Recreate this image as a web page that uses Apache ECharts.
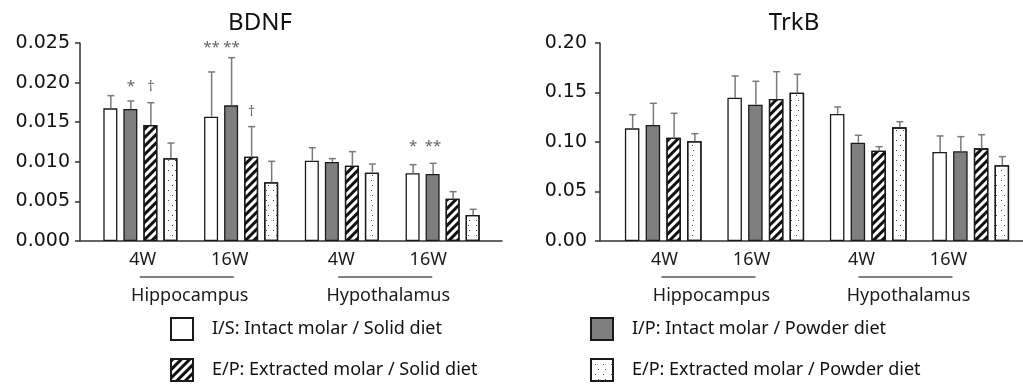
<!DOCTYPE html>
<html>
<head>
<meta charset="utf-8">
<script src="https://cdn.jsdelivr.net/npm/echarts@6/dist/echarts.min.js"></script>
<style>html,body{margin:0;padding:0;background:#fff}#c{width:1023px;height:384px}</style>
</head>
<body>
<div id="c"></div>
<script>
// ---------------- data ----------------
const categories = ['Hippocampus 4W', 'Hippocampus 16W', 'Hypothalamus 4W', 'Hypothalamus 16W'];
const weekLabels = ['4W', '16W', '4W', '16W'];
const regionLabels = ['Hippocampus', 'Hypothalamus'];
const seriesNames = [
  'I/S: Intact molar / Solid diet',
  'I/P: Intact molar / Powder diet',
  'E/P: Extracted molar / Solid diet',
  'E/P: Extracted molar / Powder diet'
];
const bdnfTicks = [0, 0.025, 0.005];
const trkbTicks = [0, 0.20, 0.05];

const bdnfIS = [0.01675, 0.01570, 0.01014, 0.00855];
const bdnfIP = [0.01667, 0.01713, 0.00997, 0.00846];
const bdnfES = [0.01465, 0.01065, 0.00951, 0.00534];
const bdnfEP = [0.01044, 0.00741, 0.00863, 0.00328];
const bdnfIS_sd = [0.00160, 0.00564, 0.00164, 0.00109];
const bdnfIP_sd = [0.00101, 0.00602, 0.00043, 0.00135];
const bdnfES_sd = [0.00281, 0.00379, 0.00177, 0.00089];
const bdnfEP_sd = [0.00193, 0.00265, 0.00109, 0.00072];

const trkbIS = [0.1138, 0.1448, 0.1283, 0.0899];
const trkbIP = [0.1172, 0.1377, 0.0993, 0.0906];
const trkbES = [0.1044, 0.1434, 0.0912, 0.0936];
const trkbEP = [0.1007, 0.1498, 0.1148, 0.0765];
const trkbIS_sd = [0.0138, 0.0219, 0.0071, 0.0162];
const trkbIP_sd = [0.0219, 0.0236, 0.0075, 0.0148];
const trkbES_sd = [0.0246, 0.0276, 0.0041, 0.0138];
const trkbEP_sd = [0.0077, 0.0186, 0.0057, 0.0087];

// significance marks (BDNF) and the level at which they are printed
const bdnfSigIS = ['', '**', '', '*'];
const bdnfSigIP = ['*', '**', '', '**'];
const bdnfSigES = ['\u2020', '\u2020', '', ''];
const bdnfSigLevelIS = [null, 0.02487, null, 0.01237];
const bdnfSigLevelIP = [0.01995, 0.02487, null, 0.01237];
const bdnfSigLevelES = [0.01944, 0.01629, null, null];

// ---------------- styles ----------------
const FONT = 'Noto Sans';
const AXIS_COLOR = '#333';
const ERR_COLOR = '#7a7a7a';
const styles = [
  { color: '#ffffff' },
  { color: '#7f7f7f' },
  { color: '#ffffff', decal: { symbol: 'rect', symbolSize: 1, color: '#111', dashArrayX: [1, 0], dashArrayY: [2.8, 2.4], rotation: -Math.PI / 4 } },
  { color: '#ffffff', decal: { symbol: 'rect', symbolSize: 1, color: '#444', dashArrayX: [[1, 6], [0, 3.5, 1, 2.5]], dashArrayY: [1, 3.5, 1, 3.5] } }
];

const chart = echarts.init(document.getElementById('c'), null, { renderer: 'canvas' });

function panel(p) {
  const series = [];
  const step = p.barWidth * (1 + p.gap);
  for (let i = 0; i < 4; i++) {
    series.push({
      name: seriesNames[i], type: 'bar', xAxisIndex: p.gi, yAxisIndex: p.gi,
      data: p.means[i], barWidth: p.barWidth, barGap: (p.gap * 100) + '%',
      itemStyle: Object.assign({ borderColor: '#1a1a1a', borderWidth: 1.3 }, styles[i]),
      emphasis: { disabled: true }, silent: true, z: 2
    });
  }
  for (let i = 0; i < 4; i++) {
    const off = (i - 1.5) * step;
    series.push({
      type: 'custom', xAxisIndex: p.gi, yAxisIndex: p.gi, silent: true, z: 3,
      data: p.means[i].map((m, k) => [k, m, p.sds[i][k]]),
      renderItem: function (params, api) {
        const top = api.coord([api.value(0), api.value(1) + api.value(2)]);
        const base = api.coord([api.value(0), api.value(1)]);
        const x = top[0] + off + 0.5;
        return { type: 'group', children: [
          { type: 'line', shape: { x1: x, y1: base[1], x2: x, y2: top[1] }, style: { stroke: ERR_COLOR, lineWidth: 1.5 } },
          { type: 'line', shape: { x1: x - 3.5, y1: top[1], x2: x + 3.5, y2: top[1] }, style: { stroke: ERR_COLOR, lineWidth: 1.5 } }
        ] };
      }
    });
    if (p.sigs && p.sigs[i]) {
      const sig = p.sigs[i], lev = p.levels[i];
      const items = [];
      sig.forEach((t, k) => { if (t) items.push([k, lev[k]]); });
      series.push({
        type: 'custom', xAxisIndex: p.gi, yAxisIndex: p.gi, silent: true, z: 4,
        data: items,
        renderItem: function (params, api) {
          const c = api.coord([api.value(0), api.value(1)]);
          const t = sig[api.value(0)];
          const isStar = t.indexOf('*') >= 0;
          return { type: 'text', x: c[0] + off + 0.5, y: c[1] + (isStar ? 4 : 0),
            style: { text: t, fill: '#666', font: (isStar ? '15px ' : '14px ') + FONT, align: 'center', verticalAlign: 'middle' } };
        }
      });
    }
  }
  series.push({
    type: 'custom', xAxisIndex: p.gi, yAxisIndex: p.gi, silent: true, clip: false, z: 5,
    data: [[0], [1]],
    renderItem: function (params, api) {
      const r = api.value(0);
      const a = api.coord([2 * r, 0]);
      const b = api.coord([2 * r + 1, 0]);
      const mid = (a[0] + b[0]) / 2 + p.shifts[r];
      const y0 = a[1];
      const txt = (s, x, y) => ({ type: 'text', x: x, y: y, style: { text: s, fill: '#1a1a1a', font: '18px ' + FONT, align: 'center', verticalAlign: 'middle' } });
      return { type: 'group', children: [
        txt(weekLabels[2 * r], mid - 44, y0 + 19),
        txt(weekLabels[2 * r + 1], mid + 43, y0 + 19),
        { type: 'line', shape: { x1: mid - 47, y1: y0 + 36, x2: mid + 47, y2: y0 + 36 }, style: { stroke: '#555', lineWidth: 1.5 } },
        txt(regionLabels[r], mid + 3, y0 + 55)
      ] };
    }
  });
  return series;
}

const bdnfSeries = panel({ gi: 0, means: [bdnfIS, bdnfIP, bdnfES, bdnfEP], sds: [bdnfIS_sd, bdnfIP_sd, bdnfES_sd, bdnfEP_sd],
  sigs: [bdnfSigIS, bdnfSigIP, bdnfSigES, null], levels: [bdnfSigLevelIS, bdnfSigLevelIP, bdnfSigLevelES, null],
  barWidth: 14, gap: 0.43, shifts: [-4, -7] });
const trkbSeries = panel({ gi: 2, means: [trkbIS, trkbIP, trkbES, trkbEP], sds: [trkbIS_sd, trkbIP_sd, trkbES_sd, trkbEP_sd],
  sigs: null, levels: null, barWidth: 14.5, gap: 0.43, shifts: [-6, -14] });

function catAxis(gi) {
  return { type: 'category', gridIndex: gi, data: categories, axisLine: { show: false }, axisTick: { show: false }, axisLabel: { show: false }, splitLine: { show: false } };
}
function lineAxis(gi) {
  return { type: 'value', gridIndex: gi, min: 0, max: 1, axisLine: { show: true, lineStyle: { color: AXIS_COLOR, width: 1.5 } }, axisTick: { show: false }, axisLabel: { show: false }, splitLine: { show: false } };
}
function valAxis(gi, ticks, dec, offset, margin) {
  return { type: 'value', gridIndex: gi, min: ticks[0], max: ticks[1], interval: ticks[2], offset: offset,
    axisLine: { show: true, lineStyle: { color: AXIS_COLOR, width: 1.5 } },
    axisTick: { show: true, length: 5, lineStyle: { color: AXIS_COLOR, width: 1.5 } },
    axisLabel: { margin: margin, color: '#111', fontFamily: 'DejaVu Sans', fontSize: 19, formatter: v => v.toFixed(dec) },
    splitLine: { show: false } };
}
function hiddenY(gi) { return { type: 'value', gridIndex: gi, min: 0, max: 1, show: false }; }
function legendItem(i, left, top) {
  return { data: [seriesNames[i]], left: left, top: top, itemWidth: 22, itemHeight: 22, icon: 'rect', selectedMode: false,
    padding: 0, textStyle: { fontFamily: FONT, fontSize: 18, color: '#111', padding: [0, 0, 0, 14] } };
}

const option = {
  animation: false,
  backgroundColor: '#fff',
  title: [
    { text: 'BDNF', left: 255, top: 6, textAlign: 'center', textStyle: { fontFamily: FONT, fontSize: 24, fontWeight: 'normal', color: '#111' } },
    { text: 'TrkB', left: 789, top: 6, textAlign: 'center', textStyle: { fontFamily: FONT, fontSize: 24, fontWeight: 'normal', color: '#111' } }
  ],
  legend: [
    legendItem(0, 170, 317),
    legendItem(2, 170, 358),
    legendItem(1, 590, 317),
    legendItem(3, 590, 358)
  ],
  grid: [
    { left: 90, width: 403, top: 43, height: 198 },
    { left: 80, width: 422, top: 43, height: 198 },
    { left: 612, width: 410, top: 43, height: 198 },
    { left: 600, width: 423, top: 43, height: 198 }
  ],
  xAxis: [catAxis(0), lineAxis(1), catAxis(2), lineAxis(3)],
  yAxis: [valAxis(0, bdnfTicks, 3, 10, 10), hiddenY(1), valAxis(2, trkbTicks, 2, 12, 13), hiddenY(3)],
  series: bdnfSeries.concat(trkbSeries)
};
chart.setOption(option);
</script>
</body>
</html>
